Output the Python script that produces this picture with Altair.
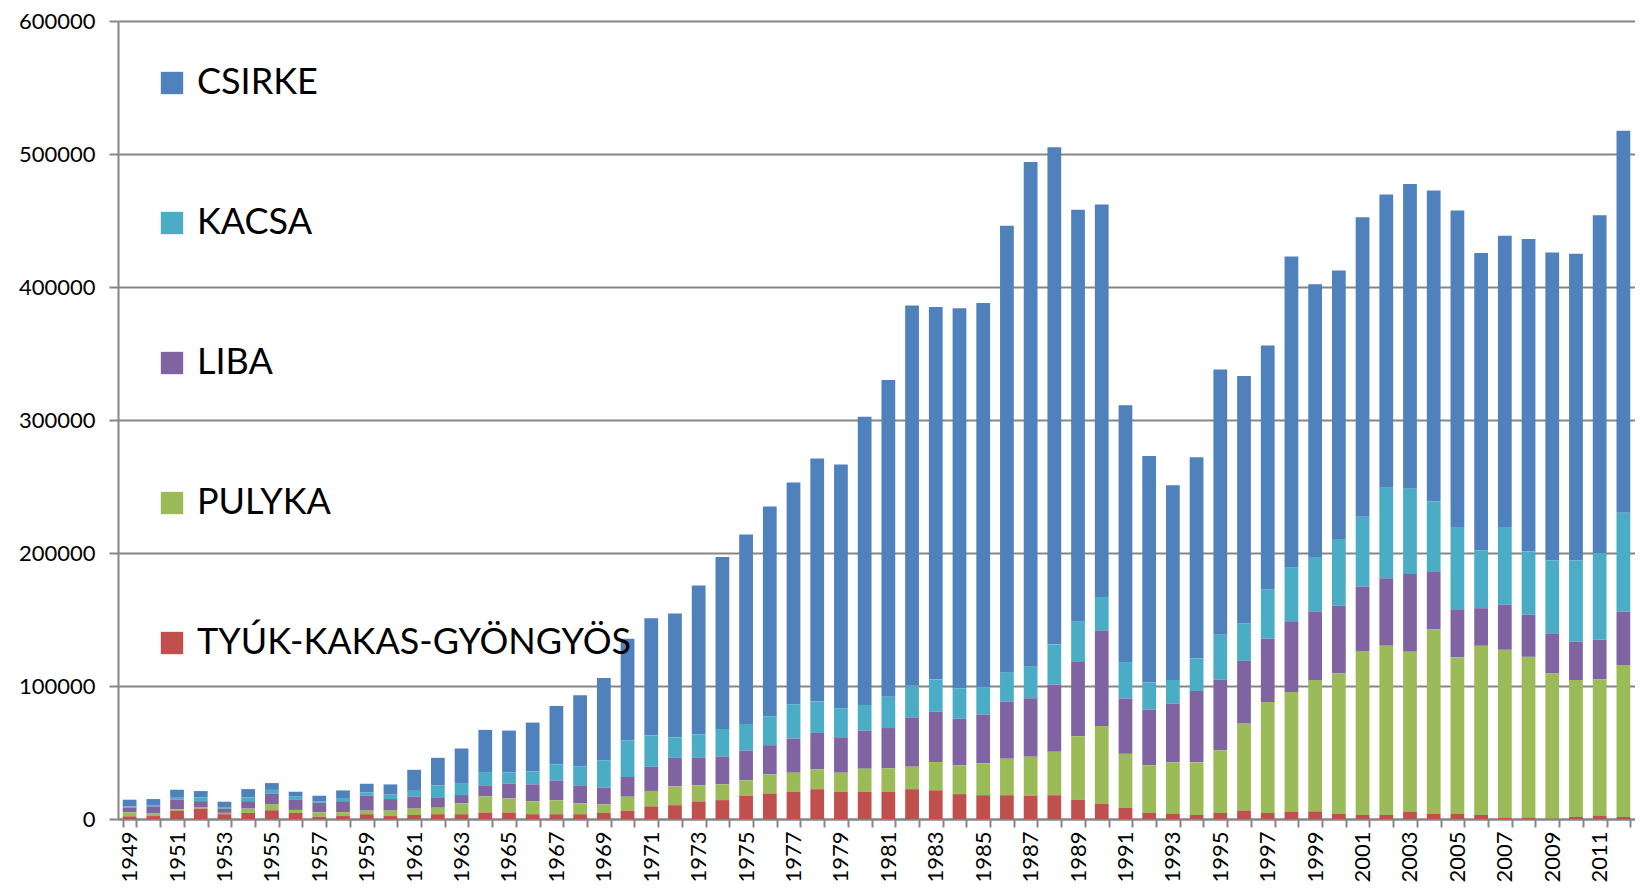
import altair as alt
import pandas as pd

years = list(range(1949, 2013))

# values in thousands
tyuk = [2, 2.2, 6, 7.8, 3.6, 4.6, 6.6, 4.6, 1.7, 2.2,
        3.6, 2.2, 3, 3.6, 3.6, 4.9, 4.9, 3.6, 3.6, 3.6,
        4.5, 6.2, 9.5, 10.4, 13.2, 14.2, 17.4, 19.2, 20.4, 22.4,
        20.4, 20.4, 20.6, 22.4, 21.6, 18.7, 17.9, 17.9, 17.4, 17.9,
        14.4, 11.5, 8.3, 4.5, 3.8, 3, 4.5, 6.4, 4.5, 5.3,
        5.7, 3.8, 3, 3, 5.3, 3.8, 3.8, 3, 0.8, 0.8,
        0.3, 1.5, 2.3, 1.5]
pulyka = [3, 2.2, 1.3, 1.2, 1, 3.2, 4.6, 2.2, 3.4, 2.9,
          2.7, 4.1, 4.8, 4.9, 8.1, 12.1, 10.7, 9.8, 10.5, 8.3,
          6.5, 10.5, 11.6, 14.2, 12.2, 11.9, 11.7, 14.4, 14.4, 14.9,
          14.4, 17.4, 17.5, 16.9, 21.2, 21.6, 23.9, 27.4, 29.4, 32.6,
          47.8, 58.5, 40.7, 35.9, 38.8, 39.6, 47.2, 65.3, 83.4, 90.2,
          98.8, 105.6, 123.4, 127.2, 120.4, 138.8, 117.7, 127.2, 126.4, 121.1,
          109.1, 103, 102.6, 114.3]
liba = [3.5, 5.1, 7.3, 4.4, 3.2, 5.6, 8, 7.6, 7.1, 8.3,
        11.2, 8.7, 9, 7.8, 6.3, 8.3, 10.9, 12.6, 14.9, 13.4,
        12.6, 14.9, 18.2, 21.4, 20.6, 20.7, 22.4, 21.9, 25.6, 27.4,
        26.1, 28.6, 30.3, 37.1, 38, 35.1, 36.6, 43, 44, 50.7,
        56.5, 71.5, 41.6, 41.9, 44.2, 53.6, 53.2, 47.2, 47.9, 53.2,
        51.3, 51, 48.3, 50.9, 58.5, 43.1, 36.2, 28.3, 33.9, 31.7,
        30.2, 28.7, 29.8, 40]
kacsa = [1, 0.5, 1.4, 2.9, 0.7, 2.9, 2.7, 2.4, 1.2, 2.4,
         2.5, 3.3, 4.4, 9, 8.5, 10, 8.5, 9.8, 12, 14.4,
         20.4, 27.6, 23.6, 15.4, 17.7, 20.9, 19.9, 21.6, 25.9, 23.6,
         22.4, 19.4, 23.6, 23.8, 24.2, 22.9, 20.4, 21.7, 23.6, 30.1,
         30.1, 25.5, 27.4, 20.3, 17.7, 24.6, 33.6, 28.3, 37, 40.7,
         41.2, 50.2, 52.5, 67.9, 64.1, 53.2, 61.9, 43.4, 58.5, 47.5,
         54.7, 61.1, 65.3, 74.4]
csirke = [5, 5, 6, 4.7, 4.5, 6.2, 5.1, 3.7, 4.1, 5.7,
          6.5, 7.7, 15.8, 20.7, 26.5, 31.7, 31.5, 36.7, 44, 53.3,
          62, 76.3, 88.1, 93.1, 111.8, 129.3, 142.6, 157.9, 166.7, 182.7,
          183.2, 216.7, 238, 285.8, 280, 285.7, 289.2, 336, 379.6, 373.7,
          309.2, 295, 193, 170.4, 146.5, 151.2, 199.5, 185.8, 183.2, 233.6,
          205, 201.9, 225.3, 220.5, 229.2, 233.6, 237.9, 223.6, 218.9, 234.9,
          231.7, 230.7, 254, 287.3]

series_names = ["CSIRKE", "KACSA", "LIBA", "PULYKA", "TYÚK-KAKAS-GYÖNGYÖS"]
series_vals = [csirke, kacsa, liba, pulyka, tyuk]
colors = ["#4F81BD", "#4BACC6", "#8064A2", "#9BBB59", "#C0504D"]
y_ticks = [0, 100000, 200000, 300000, 400000, 500000, 600000]

rows = []
for si, (name, vals) in enumerate(zip(series_names, series_vals)):
    for yr, v in zip(years, vals):
        rows.append({"ev": yr, "faj": name, "db": v * 1000, "ord": len(series_names) - si})
df = pd.DataFrame(rows)

chart = alt.Chart(df).mark_bar().encode(
    x=alt.X("ev:O", title=None,
            scale=alt.Scale(paddingInner=0.42, paddingOuter=0.2),
            axis=alt.Axis(labelAngle=-90, labelExpr="datum.value % 2 == 1 ? datum.label : ''",
                          labelFont="Lato", labelFontSize=22, labelColor="#000000",
                          labelPadding=4, labelBaseline="middle", labelAlign="right",
                          tickBand="extent", tickSize=8, tickColor="#868686", tickWidth=2,
                          domainColor="#868686", domainWidth=2)),
    y=alt.Y("db:Q", title=None, stack="zero",
            scale=alt.Scale(domain=[0, 600000], nice=False),
            axis=alt.Axis(values=y_ticks, format="d", labelFont="Lato", labelFontSize=22,
                          labelColor="#000000", labelPadding=14, tickSize=9,
                          tickColor="#868686", tickWidth=2, domainColor="#868686",
                          domainWidth=2, gridColor="#868686", gridWidth=2)),
    color=alt.Color("faj:N", title=None,
                    scale=alt.Scale(domain=series_names, range=colors),
                    legend=alt.Legend(orient="none", legendX=36, legendY=44,
                                      symbolType="square", symbolSize=500,
                                      symbolStrokeWidth=0, symbolOpacity=1,
                                      labelFont="Lato", labelFontSize=36,
                                      labelColor="#000000", labelOffset=7,
                                      rowPadding=104, labelLimit=600)),
    order=alt.Order("ord:Q", sort="ascending"),
).properties(
    width=1517, height=798,
    padding={"left": 110, "top": 13, "right": 0, "bottom": 64},
    autosize=alt.AutoSizeParams(type="none"),
).configure_view(strokeWidth=0)

chart.save("out.html", embed_options={"renderer": "svg", "actions": False})
